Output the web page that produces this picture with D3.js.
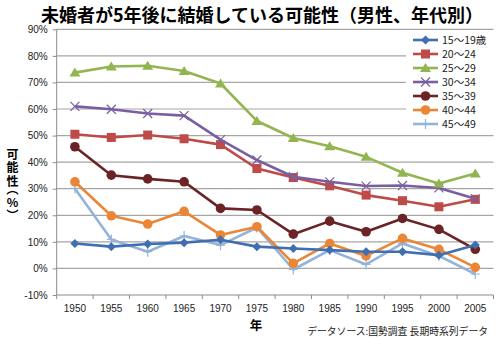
<!DOCTYPE html>
<html><head><meta charset="utf-8">
<script src="https://cdn.jsdelivr.net/npm/d3@7"></script>
<style>body{margin:0;background:#fff;}svg{display:block;font-family:"Noto Sans CJK JP","Noto Sans",sans-serif;}</style>
</head><body><svg id="c" width="500" height="338"></svg>
<script>
const years = ["1950","1955","1960","1965","1970","1975","1980","1985","1990","1995","2000","2005"];
const seriesNames = ["15〜19歳","20〜24","25〜29","30〜34","35〜39","40〜44","45〜49"];
const s1519 = [9.4,8.2,9.2,9.7,10.8,8.2,7.5,6.9,6.3,6.3,5.0,8.8];
const s2024 = [50.5,49.3,50.2,48.8,46.6,37.6,34.2,31.1,27.6,25.5,23.2,26.0];
const s2529 = [73.7,76.0,76.3,74.3,69.6,55.5,49.1,46.0,42.0,36.0,32.0,35.7];
const s3034 = [61.0,59.9,58.3,57.5,48.5,40.8,34.5,32.6,31.0,31.2,30.3,26.2];
const s3539 = [45.8,35.1,33.7,32.6,22.6,22.0,12.9,17.8,13.8,18.8,14.7,7.2];
const s4044 = [32.6,19.8,16.7,21.5,12.6,15.7,1.9,9.4,4.7,11.3,7.2,0.4];
const s4549 = [30.1,10.9,6.3,12.2,8.8,15.4,-0.4,6.9,1.5,9.4,4.7,-2.1];
const yTicks = [-10,0,10,20,30,40,50,60,70,80,90];
const colors = ["#3f6fb0","#be4b48","#93b551","#7a5fa0","#6b2325","#ea8635","#95b3d7"];
const markers = ["diamond","square","triangle","x","circle","circle","plus"];
const allSeries = [s1519,s2024,s2529,s3034,s3539,s4044,s4549];

const svg = d3.select("#c");
const x = d3.scaleBand().domain(years).range([56.7,493.5]);
const y = d3.scaleLinear().domain([-10,90]).range([295,29.3]);

// gridlines
svg.append("g").selectAll("line").data(yTicks.filter(d=>d!==-10)).join("line")
  .attr("x1",56.7).attr("x2",493.5).attr("y1",d=>y(d)).attr("y2",d=>y(d))
  .attr("stroke","#a6a6a6").attr("stroke-width",1.2);

// y axis
const ya = svg.append("g").attr("transform","translate(56.7,0)")
  .call(d3.axisLeft(y).tickValues(yTicks).tickFormat(d=>d+"%").tickSize(4).tickPadding(5));
ya.select(".domain").attr("stroke","#8c8c8c").attr("d","M0,29.3V295");
ya.selectAll(".tick line").attr("stroke","#8c8c8c");
ya.selectAll("text").attr("font-size",10).attr("fill","#222").attr("font-family","Liberation Sans, Arial, sans-serif");

// x axis
const xa = svg.append("g").attr("transform","translate(0,295)")
  .call(d3.axisBottom(x).tickSize(0).tickPadding(10));
xa.select(".domain").attr("stroke","#8c8c8c").attr("d","M56.7,0H493.5");
xa.selectAll("text").attr("font-size",10).attr("fill","#222").attr("font-family","Liberation Sans, Arial, sans-serif");
svg.append("g").selectAll("line").data(d3.range(years.length+1)).join("line")
  .attr("x1",i=>56.7+i*x.step()).attr("x2",i=>56.7+i*x.step()).attr("y1",295).attr("y2",299)
  .attr("stroke","#8c8c8c");

function drawMarker(g, type, color, cx, cy){
  if(type==="diamond") g.append("path").attr("d",`M${cx},${cy-4.5}L${cx+4.5},${cy}L${cx},${cy+4.5}L${cx-4.5},${cy}Z`).attr("fill",color);
  else if(type==="square") g.append("rect").attr("x",cx-4.5).attr("y",cy-4.5).attr("width",9).attr("height",9).attr("fill",color);
  else if(type==="triangle") g.append("path").attr("d",`M${cx},${cy-5}L${cx+5.5},${cy+4}L${cx-5.5},${cy+4}Z`).attr("fill",color);
  else if(type==="circle") g.append("circle").attr("cx",cx).attr("cy",cy).attr("r",4.8).attr("fill",color);
  else if(type==="x") g.append("path").attr("d",`M${cx-4.5},${cy-4.5}L${cx+4.5},${cy+4.5}M${cx-4.5},${cy+4.5}L${cx+4.5},${cy-4.5}`).attr("stroke",color).attr("stroke-width",1.2);
  else if(type==="plus") g.append("path").attr("d",`M${cx-4.5},${cy}L${cx+4.5},${cy}M${cx},${cy-5}L${cx},${cy+5}`).attr("stroke",color).attr("stroke-width",1.2);
}

// lines
const line = d3.line().x((d,i)=>x(years[i])+x.bandwidth()/2).y(d=>y(d));
const order = [6,5,4,0,1,3,2];
order.forEach(k=>{
  const g = svg.append("g");
  g.append("path").attr("d",line(allSeries[k])).attr("fill","none").attr("stroke",colors[k]).attr("stroke-width",2.6).attr("stroke-linejoin","round");
  allSeries[k].forEach((v,i)=>drawMarker(g,markers[k],colors[k],x(years[i])+x.bandwidth()/2,y(v)));
});

// legend
svg.append("rect").attr("x",406).attr("y",31).attr("width",94).attr("height",102).attr("fill","#fff");
seriesNames.forEach((n,k)=>{
  const ly = 40 + k*14;
  const g = svg.append("g");
  g.append("line").attr("x1",413).attr("x2",438).attr("y1",ly).attr("y2",ly).attr("stroke",colors[k]).attr("stroke-width",2.6);
  drawMarker(g,markers[k],colors[k],425.5,ly);
  g.append("text").attr("x",442).attr("y",ly+3.8).attr("font-size",10.5).attr("fill","#222").text(n);
});

// title
svg.append("text").attr("x",262).attr("y",22).attr("text-anchor","middle").attr("font-size",18).attr("font-weight","bold").attr("fill","#000")
  .text("未婚者が5年後に結婚している可能性（男性、年代別）");

// y axis title (vertical)
svg.append("text").attr("x",12.5).attr("y",148).attr("font-size",12).attr("font-weight","bold").attr("fill","#000")
  .style("writing-mode","vertical-rl").style("text-orientation","upright")
  .style("font-feature-settings","'vpal'").style("letter-spacing","1.5px")
  .text("可能性（%）");

// x axis title
svg.append("text").attr("x",256).attr("y",330).attr("text-anchor","middle").attr("font-size",12.5).attr("font-weight","bold").text("年");
// source
svg.append("text").attr("x",488).attr("y",335).attr("text-anchor","end").attr("font-size",9.8).attr("fill","#222").text("データソース:国勢調査 長期時系列データ");
</script></body></html>
